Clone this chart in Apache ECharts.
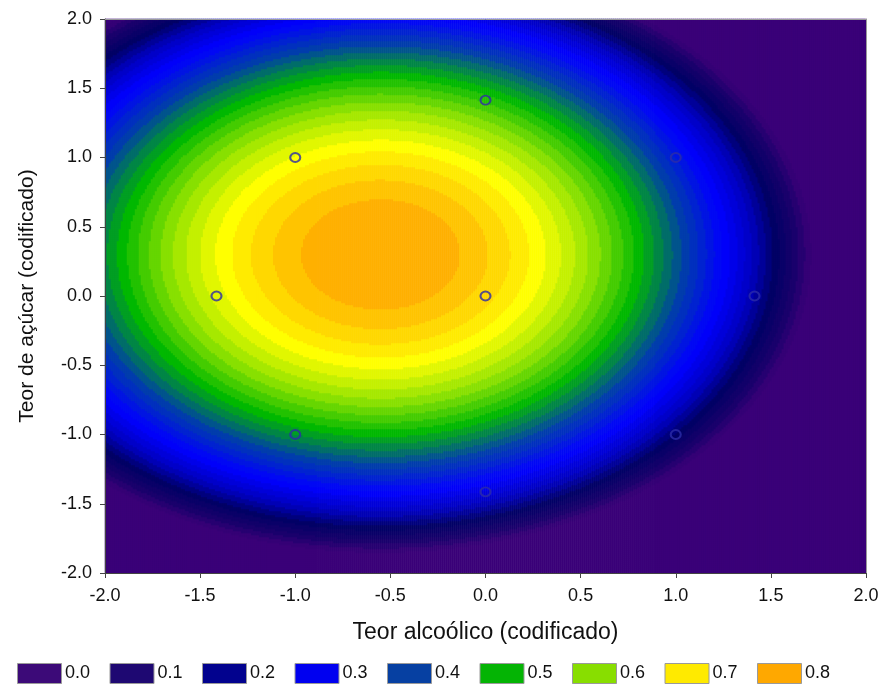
<!DOCTYPE html>
<html>
<head>
<meta charset="utf-8">
<script src="https://cdn.jsdelivr.net/npm/echarts@6/dist/echarts.min.js"></script>
<style>
    html, body { margin: 0; padding: 0; background: #fff; }
    #chart { width: 884px; height: 684px; }
</style>
</head>
<body>
<div id="chart"></div>
<script>
//axis ticks, coded units
const axisTicks = [-2.0, -1.5, -1.0, -0.5, 0.0, 0.5, 1.0, 1.5, 2.0];

//design points (central composite design)
const designX = [-1, 1, -1, 1, -1.414, 1.414, 0, 0, 0];
const designY = [-1, -1, 1, 1, 0, 0, -1.414, 1.414, 0];

//fitted quadratic surface, coefficients
//z = b0 + b1*x + b2*y + b11*x^2 + b22*y^2 + b12*x*y
const surfaceCoefs = [0.7609, -0.1892, 0.114, -0.172, -0.19, 0];

//legend levels and colours
const legendLevels = [0.0, 0.1, 0.2, 0.3, 0.4, 0.5, 0.6, 0.7, 0.8];
const legendColors = ["#3c0a78", "#1e0872", "#02028e", "#0000f0", "#0640a2",
    "#04b404", "#88de00", "#ffea00", "#ffa800"];

//colour ramp behind the contour bands
const rampValues = [-0.06, 0.0, 0.08, 0.16, 0.26, 0.38, 0.5, 0.6, 0.7, 0.8, 0.83];
const rampColors = ["#3a0078", "#1a006c", "#000066", "#0000c0", "#0000ff", "#0040a8",
    "#00b800", "#88e000", "#ffff00", "#ffb000", "#ffa000"];

//contour band step
const bandStep = 0.025;

const chart = echarts.init(document.getElementById("chart"));
const font = "Liberation Sans";

//cells of the surface grid
const nx = 380, ny = 277;
const xCells = Array.from({ length: nx }, (d, i) => i);
const yCells = Array.from({ length: ny }, (d, j) => j);

function surface(x, y) {
    const c = surfaceCoefs;
    return c[0] + c[1] * x + c[2] * y + c[3] * x * x + c[4] * y * y + c[5] * x * y;
};

const cells = [];
xCells.forEach(i => {
    const x = -2 + (i + 0.5) * 4 / nx;
    yCells.forEach(j => {
        const y = -2 + (j + 0.5) * 4 / ny;
        cells.push([i, j, surface(x, y)]);
    });
});

//hex colour interpolation along the ramp
function hexToRgb(h) {
    return [1, 3, 5].map(k => parseInt(h.substr(k, 2), 16));
};
function rampColor(v) {
    if (v <= rampValues[0]) return rampColors[0];
    const last = rampValues.length - 1;
    if (v >= rampValues[last]) return rampColors[last];
    let k = 0;
    while (v > rampValues[k + 1]) k++;
    const t = (v - rampValues[k]) / (rampValues[k + 1] - rampValues[k]);
    const a = hexToRgb(rampColors[k]), b = hexToRgb(rampColors[k + 1]);
    return "rgb(" + a.map((d, n) => Math.round(d + (b[n] - d) * t)).join(",") + ")";
};

//piecewise bands
const pieces = [{ lt: -0.05, color: rampColors[0] }];
for (let k = 0; k < 35; k++) {
    const lo = +(-0.05 + k * bandStep).toFixed(3);
    const hi = +(lo + bandStep).toFixed(3);
    pieces.push(k < 34 ? { gte: lo, lt: hi, color: rampColor(lo) } : { gte: lo, color: rampColor(lo) });
}

//legend drawn as graphic items
const legendItems = [];
legendLevels.forEach((lv, i) => {
    const left = 17 + i * 92.5;
    legendItems.push({
        type: "rect", left: left, top: 663,
        shape: { width: 44, height: 20 },
        style: { fill: legendColors[i], stroke: "#9a9a9a", lineWidth: 1 }
    });
    legendItems.push({
        type: "text", left: left + 48, top: 664,
        style: { text: lv.toFixed(1), font: "18px " + font, fill: "#111" }
    });
});

const labelStyle = { fontSize: 18, fontFamily: font, color: "#111" };

const option = {
    animation: false,
    grid: { left: 105, top: 19, right: 18, bottom: 111 },
    visualMap: { type: "piecewise", show: false, seriesIndex: 0, dimension: 2, pieces: pieces },
    xAxis: [
        {
            type: "category", data: xCells, position: "top", boundaryGap: true, z: 10,
            axisLine: { show: true, onZero: false, lineStyle: { color: "#9a9a9a" } },
            axisTick: { show: false }, axisLabel: { show: false }, splitLine: { show: false }
        },
        {
            type: "value", min: -2, max: 2, interval: 0.5, position: "bottom", z: 10,
            axisLine: { show: true, onZero: false, lineStyle: { color: "#444" } },
            axisTick: { show: true, length: 5, lineStyle: { color: "#444" } },
            axisLabel: Object.assign({ margin: 14, formatter: v => v.toFixed(1), showMinLabel: true, showMaxLabel: true }, labelStyle),
            splitLine: { show: false },
            name: "Teor alcoólico (codificado)", nameLocation: "middle", nameGap: 48,
            nameTextStyle: { fontSize: 23, fontFamily: font, color: "#111" }
        }
    ],
    yAxis: [
        {
            type: "category", data: yCells, position: "right", boundaryGap: true, z: 10,
            axisLine: { show: true, onZero: false, lineStyle: { color: "#9a9a9a" } },
            axisTick: { show: false }, axisLabel: { show: false }, splitLine: { show: false }
        },
        {
            type: "value", min: -2, max: 2, interval: 0.5, position: "left", z: 10,
            axisLine: { show: true, onZero: false, lineStyle: { color: "#444" } },
            axisTick: { show: true, length: 5, lineStyle: { color: "#444" } },
            axisLabel: Object.assign({ margin: 13, formatter: v => v.toFixed(1), showMinLabel: true, showMaxLabel: true }, labelStyle),
            splitLine: { show: false },
            name: "Teor de açúcar (codificado)", nameLocation: "middle", nameGap: 67,
            nameTextStyle: { fontSize: 21, fontFamily: font, color: "#111" }
        }
    ],
    graphic: legendItems,
    series: [
        {
            type: "heatmap", xAxisIndex: 0, yAxisIndex: 0,
            data: cells, progressive: 0, silent: true
        },
        {
            type: "scatter", xAxisIndex: 1, yAxisIndex: 1, z: 5, silent: true,
            symbol: "circle", symbolSize: [10, 9],
            itemStyle: { color: "rgba(0,0,0,0)", borderColor: "#2c2ca8", borderWidth: 2 },
            data: designX.map((x, i) => [x, designY[i]])
        }
    ]
};

chart.setOption(option);
</script>
</body>
</html>
